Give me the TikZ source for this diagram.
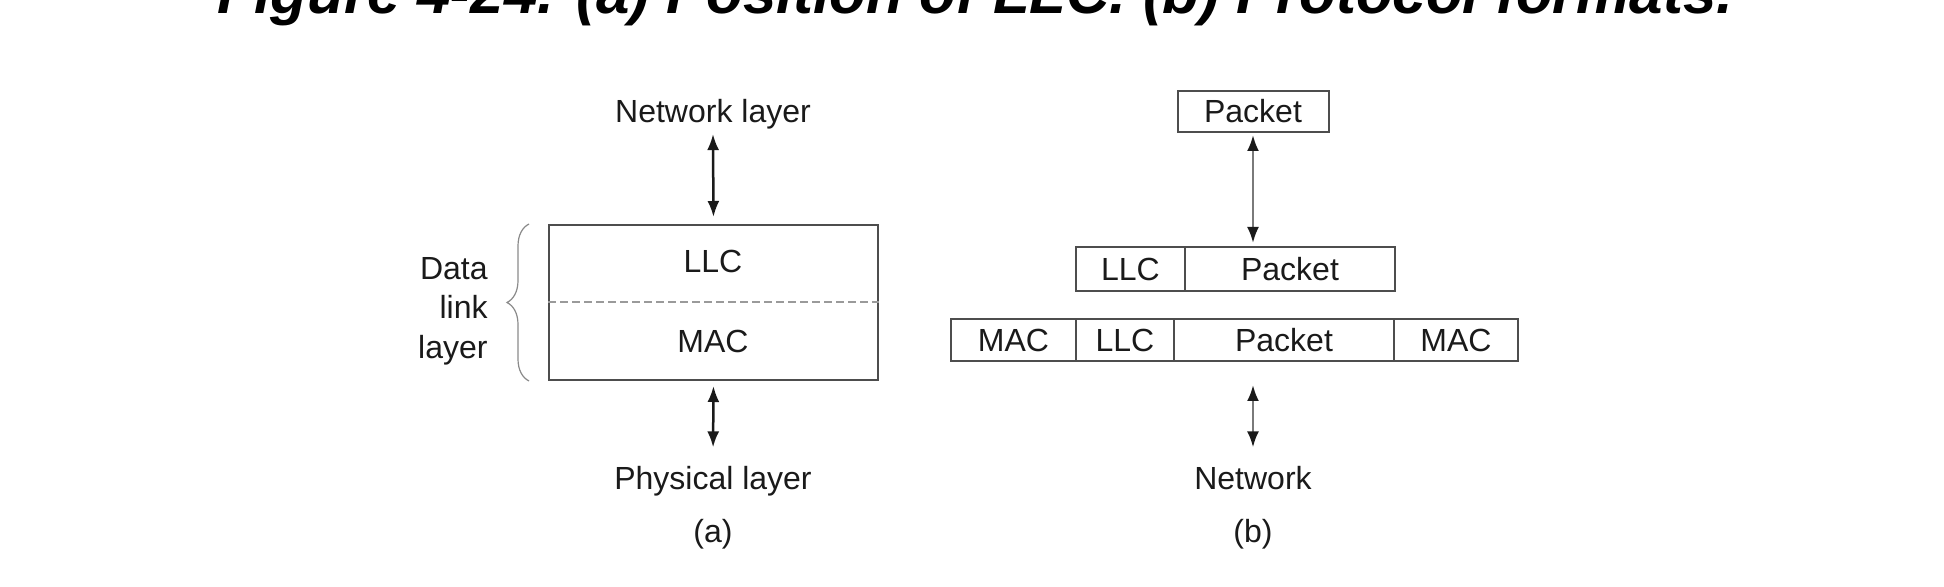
\documentclass[tikz,border=0pt]{standalone}
\usepackage{fontspec}
\setmainfont{Liberation Sans}
\usetikzlibrary{arrows.meta, decorations.pathreplacing, calc}

\definecolor{ink}{HTML}{1A1A1A}
\definecolor{frame}{HTML}{4D4D4D}
\definecolor{dashgray}{HTML}{9A9A9A}
\definecolor{bracegray}{HTML}{8A8A8A}
\definecolor{shaftgray}{HTML}{7A7A7A}

\begin{document}
\begin{tikzpicture}[x=0.5pt, y=-0.5pt,
  lbl/.style={font=\fontsize{16}{19}\selectfont, text=ink, inner sep=2pt},
  cell/.style={draw=frame, line width=1pt, font=\fontsize{16}{19}\selectfont, text=ink,
               inner sep=0pt, outer sep=0pt, anchor=west},
  biarrow/.style={{Latex[length=8pt,width=6pt,color=ink]}-{Latex[length=8pt,width=6pt,color=ink]}, line width=1.25pt, draw=ink}]
\useasboundingbox (0,0) rectangle (1944,587);

% title, cut at the top edge
\node[anchor=base west, inner sep=0pt, font=\fontsize{30}{36}\selectfont\bfseries\itshape] (title) at (217,14) {Figure 4-24. (a) Position of LLC. (b) Protocol formats.};

% (a)
\node[lbl, anchor=base] (netlayer) at (713,123) {Network layer};
\node[draw=frame, line width=1pt, minimum width=164.5pt, minimum height=77.5pt] (dll) at (713.5,302.5) {};
\node[lbl, anchor=base] (llc) at (713,273) {LLC};
\node[lbl, anchor=base] (mac) at (713,353) {MAC};
\draw[dashgray, line width=1pt, dash pattern=on 4pt off 2pt] (dll.west) -- (dll.east);
\node[lbl, anchor=base] (phylayer) at (713,489) {Physical layer};
\node[lbl, anchor=base] (capa) at (713,542) {(a)};
\draw[biarrow, shorten >=3.5pt] (netlayer.south) -- (dll.north);
\draw[biarrow, shorten <=2.5pt, shorten >=7pt] (dll.south) -- (phylayer.north);
\draw[bracegray, line width=0.6pt, decorate, decoration={brace, amplitude=11pt}]
  ($(dll.south west)+(-19,0)$) -- ($(dll.north west)+(-19,0)$);
\node[lbl, anchor=east, inner sep=0pt, align=right, font=\fontsize{16}{19.75}\selectfont] (dlltext) at (488,311) {Data\\link\\layer};

% (b)
\node[cell, anchor=center, minimum width=75.5pt, minimum height=20.5pt] (pkt) at (1253,111.5) {Packet};
\node[cell, minimum width=54.5pt, minimum height=22pt] (llc1) at (1076,269) {LLC};
\node[cell, minimum width=105pt, minimum height=22pt] (pkt1) at (llc1.east) {Packet};
\node[cell, minimum width=62.5pt, minimum height=21pt] (maca) at (951,340) {MAC};
\node[cell, minimum width=49pt, minimum height=21pt] (llc2) at (maca.east) {LLC};
\node[cell, minimum width=110pt, minimum height=21pt] (pkt2) at (llc2.east) {Packet};
\node[cell, minimum width=62pt, minimum height=21pt] (macb) at (pkt2.east) {MAC};
\node[lbl, anchor=base] (network) at (1253,489) {Network};
\node[lbl, anchor=base] (capb) at (1253,542) {(b)};
\draw[biarrow, draw=shaftgray, shorten <=1.5pt, shorten >=2pt] (pkt.south) -- (pkt.south |- llc1.north);
\draw[biarrow, draw=shaftgray, shorten <=12pt, shorten >=7pt] (network.north |- pkt2.south) -- (network.north);
\end{tikzpicture}
\end{document}
